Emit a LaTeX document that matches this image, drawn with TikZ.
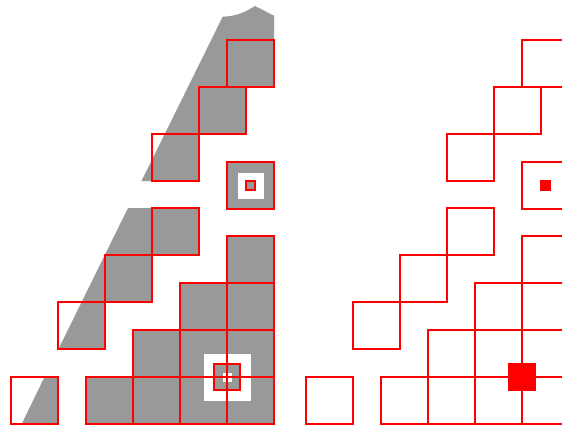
\documentclass[tikz,border=0pt]{standalone}
\usetikzlibrary{calc}
\definecolor{cellgray}{RGB}{153,153,153}
\newcommand{\cellcorners}{227/40,199/87,152/134,227/162,152/208,105/255,58/302,11/377,
  227/236,180/283,227/283,133/330,180/330,227/330,86/377,133/377,180/377,227/377}
\begin{document}
\begin{tikzpicture}[x=1pt,y=-1pt,
    cell/.style={draw=red,line width=1.5pt},
    ring/.style={fill=white},
    probe/.style={draw=red,line width=1.5pt,fill=cellgray}]
  \useasboundingbox (0,0) rectangle (562,425);
  \clip (0,0) rectangle (562,425);
  % left panel
  \fill[cellgray] (222.7,16.7) .. controls (237,16.5) and (247,11) .. (255,6) -- (274,15.7)
    -- (274,87) -- (246,87) -- (246,134) -- (199,134) -- (199,181) -- (141.5,181) -- cycle;
  \fill[cellgray] (128,208) -- (199,208) -- (199,255) -- (152,255) -- (152,302)
    -- (105,302) -- (105,349) -- (58.5,349) -- cycle;
  \fill[cellgray] (44.5,377) -- (58,377) -- (58,424) -- (21.7,424) -- cycle;
  \foreach \x/\y in {227/162,227/236,180/283,227/283,133/330,180/330,227/330,86/377,133/377,180/377,227/377}
    \fill[cellgray] (\x,\y) rectangle ++(47,47);
  \fill[ring] (237.5,172.5) rectangle (263.5,198.5);
  \draw[probe] (246,181) rectangle (255,190);
  \fill[ring] (203.5,353.5) rectangle (250.5,400.5);
  \draw[probe] (214,364) rectangle (240,390);
  \fill[ring] (222.5,372.5) rectangle (231.5,381.5);
  \foreach \x/\y in \cellcorners
    \draw[cell] (\x,\y) rectangle ++(47,47);
  % right panel
  \begin{scope}[xshift=295pt]
    \foreach \x/\y in \cellcorners
      \draw[cell] (\x,\y) rectangle ++(47,47);
    \draw[cell,fill=red] (246,181) rectangle (255,190);
    \draw[cell,fill=red] (214,364) rectangle (240,390);
  \end{scope}
\end{tikzpicture}
\end{document}
